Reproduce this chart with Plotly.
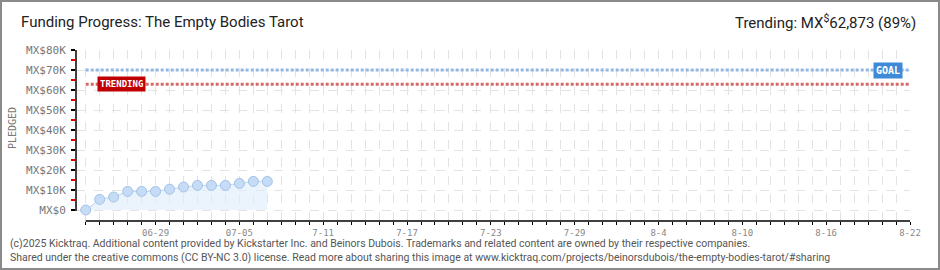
import plotly.graph_objects as go

# ---- data ----
dates = ["2025-06-24", "2025-06-25", "2025-06-26", "2025-06-27", "2025-06-28",
         "2025-06-29", "2025-06-30", "2025-07-01", "2025-07-02", "2025-07-03",
         "2025-07-04", "2025-07-05", "2025-07-06", "2025-07-07"]
pledged = [0, 5300, 6500, 9300, 9300, 9300, 10400, 11500, 12300, 12300,
           12300, 13300, 14300, 14300]
goal = 70000
trending = 62873
x_tick_vals = ["2025-06-29", "2025-07-05", "2025-07-11", "2025-07-17", "2025-07-23",
               "2025-07-29", "2025-08-04", "2025-08-10", "2025-08-16", "2025-08-22"]
x_tick_text = ["06-29", "07-05", "7-11", "7-17", "7-23", "7-29", "8-4", "8-10", "8-16", "8-22"]
y_tick_vals = [0, 10000, 20000, 30000, 40000, 50000, 60000, 70000, 80000]
y_tick_text = ["MX$0", "MX$10K", "MX$20K", "MX$30K", "MX$40K", "MX$50K",
               "MX$60K", "MX$70K", "MX$80K"]
x_start = "2025-06-24"
x_end = "2025-08-22"

W, H = 940, 270
L, R, T, B = 76, 30, 50, 49
PW, PH = W - L - R, H - T - B


def px(x):
    return (x - L) / PW


def py(y):
    return (H - B - y) / PH


PIX = "DejaVu Sans Mono, monospace"
NARROW = "Roboto, Liberation Sans, sans-serif"

fig = go.Figure()
fig.add_trace(go.Scatter(
    x=dates, y=pledged, mode="lines+markers",
    line=dict(color="#bcd6f2", width=1),
    marker=dict(size=10, color="#c6dcf6", line=dict(color="#a3c2e6", width=1)),
    fill="tozeroy", fillcolor="rgba(222,236,252,0.6)",
    hoverinfo="skip", showlegend=False,
))

shapes = [
    dict(type="line", xref="x", yref="y", x0=x_start, x1=x_end, y0=goal, y1=goal,
         line=dict(color="#93b7e3", width=3, dash="3px,2px"), layer="above"),
    dict(type="line", xref="x", yref="y", x0=x_start, x1=x_end, y0=trending, y1=trending,
         line=dict(color="#d46a6a", width=3, dash="3px,2px"), layer="above"),
    dict(type="line", xref="paper", yref="y", x0=0, x1=0, y0=-500, y1=80000,
         line=dict(color="#000", width=1.5)),
    dict(type="line", xref="x", yref="paper", x0=x_start, x1=x_end, y0=0, y1=0,
         line=dict(color="#000", width=1.5)),
    dict(type="rect", xref="paper", yref="paper", x0=px(1), x1=px(939), y0=py(269), y1=py(1),
         line=dict(color="#8a8a8a", width=2)),
]

annotations = [
    dict(text="Funding Progress: The Empty Bodies Tarot", xref="paper", yref="paper",
         x=px(19), y=py(22), xanchor="left", yanchor="middle", showarrow=False,
         font=dict(family=NARROW, size=15, color="#222")),
    dict(text="Trending: MX<sup>$</sup>62,873 (89%)", xref="paper", yref="paper",
         x=px(918), y=py(22), xanchor="right", yanchor="middle", showarrow=False,
         font=dict(family=NARROW, size=15, color="#222")),
    dict(text="PLEDGED", xref="paper", yref="paper", x=px(12), y=py(128),
         xanchor="center", yanchor="middle", textangle=-90, showarrow=False,
         font=dict(family=PIX, size=10, color="#777")),
    dict(text="<b>TRENDING</b>", xref="paper", yref="y", x=px(121), y=trending,
         xanchor="center", yanchor="middle", showarrow=False, bgcolor="#c00000",
         borderpad=2, font=dict(family=PIX, size=9, color="#fff")),
    dict(text="<b>GOAL</b>", xref="paper", yref="y", x=px(888), y=goal,
         xanchor="center", yanchor="middle", showarrow=False, bgcolor="#3d8ad8",
         borderpad=2, font=dict(family=PIX, size=10, color="#fff")),
    dict(text="(c)2025 Kicktraq. Additional content provided by Kickstarter Inc. and Beinors Dubois. "
              "Trademarks and related content are owned by their respective companies.",
         xref="paper", yref="paper", x=px(8), y=py(243), xanchor="left", yanchor="middle",
         showarrow=False, font=dict(family=NARROW, size=10.5, color="#555")),
    dict(text="Shared under the creative commons (CC BY-NC 3.0) license. Read more about sharing this "
              "image at www.kicktraq.com/projects/beinorsdubois/the-empty-bodies-tarot/#sharing",
         xref="paper", yref="paper", x=px(8), y=py(257), xanchor="left", yanchor="middle",
         showarrow=False, font=dict(family=NARROW, size=10.5, color="#555")),
]

fig.update_layout(
    width=W, height=H, margin=dict(l=L, r=R, t=T, b=B),
    paper_bgcolor="#fff", plot_bgcolor="#fff",
    shapes=shapes, annotations=annotations, showlegend=False,
    xaxis=dict(
        type="date", range=["2025-06-23 07:20", x_end],
        tickmode="array", tickvals=x_tick_vals, ticktext=x_tick_text,
        ticks="outside", ticklen=3, tickcolor="#000", tickwidth=1,
        showgrid=True, gridcolor="#e3e3e3", griddash="dash", gridwidth=1,
        showline=False, zeroline=False, ticklabelstandoff=0,
        tickfont=dict(family=PIX, size=9, color="#888"),
        minor=dict(dtick=86400000, tick0=x_start, ticks="outside", ticklen=3,
                   tickcolor="#000", showgrid=True, gridcolor="#e3e3e3", griddash="dash"),
    ),
    yaxis=dict(
        range=[-5500, 80000], tickmode="array", tickvals=y_tick_vals, ticktext=y_tick_text,
        ticks="outside", ticklen=4, tickcolor="#000", tickwidth=1.5,
        showgrid=True, gridcolor="#e3e3e3", griddash="dash", gridwidth=1,
        showline=False, zeroline=False, ticklabelstandoff=3,
        tickfont=dict(family=PIX, size=11, color="#777"),
        minor=dict(tickvals=[5000, 15000, 25000, 35000, 45000, 55000, 65000, 75000],
                   ticks="outside", ticklen=4, tickcolor="#e00000", showgrid=False),
    ),
)

fig.write_html("out.html")
